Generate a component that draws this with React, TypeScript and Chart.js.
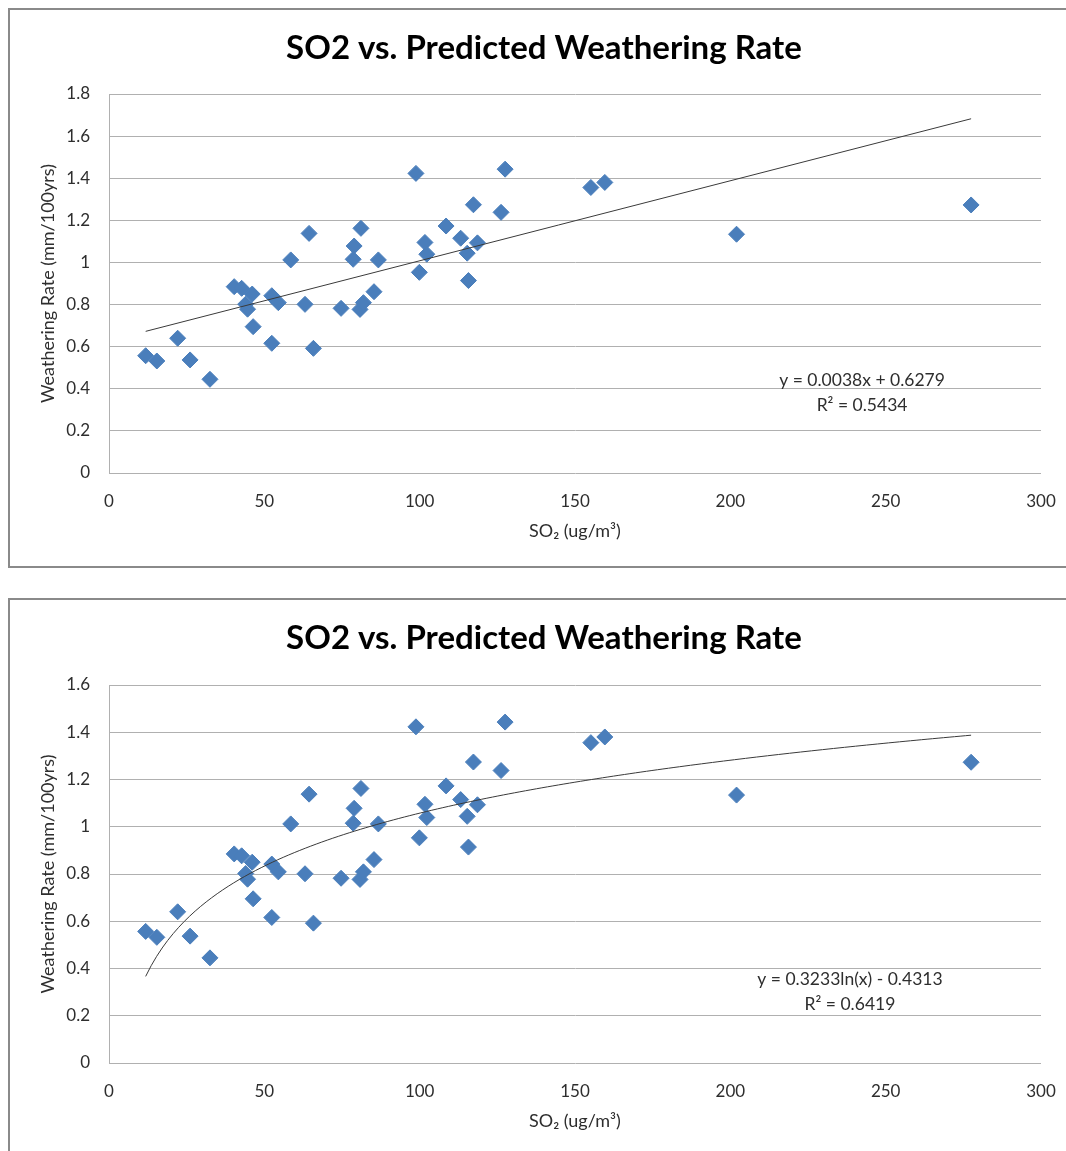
import React, { useEffect, useRef } from "react";
import { Chart, registerables } from "chart.js";

Chart.register(...registerables);

// SO2 concentration (ug/m3) at each site
const so2 = [
  11.8, 15.4, 22.1, 26.1, 32.5, 40.3, 42.7, 46.1, 44.0, 44.6, 46.4, 52.4, 54.5, 52.4,
  58.5, 64.4, 63.1, 65.8, 74.7, 78.9, 78.6, 81.1, 80.8, 81.9, 85.3, 86.7, 98.8, 99.9,
  101.7, 102.3, 108.5, 113.2, 115.3, 115.7, 117.3, 118.6, 126.2, 127.5, 155.1, 159.6,
  202.0, 277.5,
];

// Predicted weathering rate (mm/100yrs) at the same sites
const weatheringRate = [
  0.557, 0.532, 0.64, 0.537, 0.445, 0.885, 0.877, 0.85, 0.802, 0.778, 0.695, 0.842,
  0.809, 0.616, 1.012, 1.138, 0.801, 0.592, 0.782, 1.078, 1.015, 1.162, 0.777, 0.809,
  0.861, 1.012, 1.423, 0.953, 1.095, 1.039, 1.173, 1.115, 1.044, 0.914, 1.274, 1.093,
  1.238, 1.443, 1.356, 1.38, 1.134, 1.273,
];

// Axis ranges
const xAxisRange = [0, 300, 50]; // min, max, step
const yAxisRangeLinear = [0, 1.8, 0.2];
const yAxisRangeLog = [0, 1.6, 0.2];

// Trendline coefficients
const linearFit = [0.0038, 0.6279]; // slope, intercept
const linearR2 = 0.5434;
const logFit = [0.3233, -0.4313]; // coefficient of ln(x), constant
const logR2 = 0.6419;

const TITLE = "SO2 vs. Predicted Weathering Rate";
const X_TITLE = "SO\u2082 (ug/m\u00b3)";
const Y_TITLE = "Weathering Rate (mm/100yrs)";

const FONT = 'Lato, "Open Sans", "DejaVu Sans", sans-serif';
const TEXT = "#2E2E2E";
const MARKER = "#4A7EBB";
const GRID = "#B0B0B0";

const CANVAS_W = 1068;
const CANVAS_H = 556;

type Panel = {
  yRange: number[];
  trend: { x: number; y: number }[];
  labels: string[];
  labelAt: { x: number; y: number };
  titlePadBottom: number;
};

function linearTrend() {
  const lo = Math.min(...so2);
  const hi = Math.max(...so2);
  return [lo, hi].map((x) => ({ x, y: linearFit[0] * x + linearFit[1] }));
}

function logTrend() {
  const lo = Math.min(...so2);
  const hi = Math.max(...so2);
  const pts: { x: number; y: number }[] = [];
  const n = 150;
  for (let i = 0; i <= n; i++) {
    const x = lo + ((hi - lo) * i) / n;
    pts.push({ x, y: logFit[0] * Math.log(x) + logFit[1] });
  }
  return pts;
}

const fmt4 = (v: number) => v.toFixed(4);

const panels: Panel[] = [
  {
    yRange: yAxisRangeLinear,
    trend: linearTrend(),
    labels: [
      `y = ${fmt4(linearFit[0])}x + ${fmt4(linearFit[1])}`,
      `R\u00b2 = ${fmt4(linearR2)}`,
    ],
    labelAt: { x: 242.4, y: 0.438 },
    titlePadBottom: 25.4,
  },
  {
    yRange: yAxisRangeLog,
    trend: logTrend(),
    labels: [
      `y = ${fmt4(logFit[0])}ln(x) - ${fmt4(Math.abs(logFit[1]))}`,
      `R\u00b2 = ${fmt4(logR2)}`,
    ],
    labelAt: { x: 238.5, y: 0.3556 },
    titlePadBottom: 26.4,
  },
];

// Draws the trendline equation and R² as two centred lines
const equationLabel = {
  id: "equationLabel",
  afterDatasetsDraw(chart: any, _args: any, opts: any) {
    if (!opts || !opts.lines) return;
    const { ctx, scales } = chart;
    const cx = scales.x.getPixelForValue(opts.at.x);
    const cy = scales.y.getPixelForValue(opts.at.y);
    ctx.save();
    ctx.font = `17.5px ${FONT}`;
    ctx.fillStyle = TEXT;
    ctx.textAlign = "center";
    ctx.textBaseline = "middle";
    opts.lines.forEach((line: string, i: number) => {
      ctx.fillText(line, cx, cy + i * 25);
    });
    ctx.restore();
  },
};

const tickText = (v: number) => String(Number(v.toFixed(1)));

function ScatterPanel({ panel }: { panel: Panel }) {
  const ref = useRef<HTMLCanvasElement | null>(null);

  useEffect(() => {
    if (!ref.current) return;
    const points = so2.map((x, i) => ({ x, y: weatheringRate[i] }));
    const chart = new Chart(ref.current, {
      type: "scatter",
      data: {
        datasets: [
          {
            type: "scatter",
            data: points,
            pointStyle: "rectRot",
            pointRadius: 8,
            pointBackgroundColor: MARKER,
            pointBorderColor: MARKER,
            pointBorderWidth: 1,
            order: 1,
          },
          {
            type: "line",
            data: panel.trend,
            borderColor: "#3A3A3A",
            borderWidth: 1,
            pointRadius: 0,
            tension: 0,
            fill: false,
            order: 0,
          } as any,
        ],
      },
      plugins: [equationLabel],
      options: {
        responsive: false,
        animation: false,
        layout: { padding: 0 },
        plugins: {
          legend: { display: false },
          tooltip: { enabled: false },
          title: {
            display: true,
            text: TITLE,
            color: "#000000",
            font: { family: FONT, size: 33, weight: "bold", lineHeight: 1.2 },
            padding: { top: 19, bottom: panel.titlePadBottom },
          },
          equationLabel: { lines: panel.labels, at: panel.labelAt },
        } as any,
        scales: {
          x: {
            type: "linear",
            min: xAxisRange[0],
            max: xAxisRange[1],
            ticks: {
              stepSize: xAxisRange[2],
              color: TEXT,
              font: { family: FONT, size: 17 },
              padding: 18,
              maxRotation: 0,
            },
            grid: { display: false, drawTicks: false },
            border: { display: false },
            title: {
              display: true,
              text: X_TITLE,
              color: TEXT,
              font: { family: FONT, size: 18, lineHeight: 1.2 },
              padding: { top: 0, bottom: 24 },
            },
            afterFit(scale: any) {
              scale.height = 93;
            },
          },
          y: {
            type: "linear",
            min: panel.yRange[0],
            max: panel.yRange[1],
            ticks: {
              stepSize: panel.yRange[2],
              color: TEXT,
              font: { family: FONT, size: 17 },
              padding: 19,
              callback: (v: any) => tickText(Number(v)),
            },
            grid: { color: GRID, lineWidth: 1, drawTicks: false },
            border: { display: true, color: GRID, width: 1 },
            title: {
              display: true,
              text: Y_TITLE,
              color: TEXT,
              font: { family: FONT, size: 18, lineHeight: 1.2 },
              padding: { top: 27, bottom: 0 },
            },
            afterFit(scale: any) {
              scale.width = 99;
            },
          },
          // empty right-hand margin beside the plot area
          gutter: {
            type: "linear",
            position: "right",
            min: 0,
            max: 1,
            display: true,
            ticks: { display: false },
            grid: { display: false, drawTicks: false },
            border: { display: false },
            afterFit(scale: any) {
              scale.width = 37;
            },
          },
        },
      } as any,
    });
    return () => chart.destroy();
  }, [panel]);

  return (
    <div
      style={{
        border: "2px solid #8A8A8A",
        width: CANVAS_W,
        height: CANVAS_H,
        background: "#ffffff",
        marginBottom: 30,
      }}
    >
      <canvas
        ref={ref}
        width={CANVAS_W}
        height={CANVAS_H}
        style={{ display: "block", width: CANVAS_W, height: CANVAS_H }}
      />
    </div>
  );
}

export default function App() {
  return (
    <div
      style={{
        position: "fixed",
        left: 0,
        top: 0,
        width: 1066,
        height: 1151,
        overflow: "hidden",
        background: "#ffffff",
      }}
    >
      <div style={{ position: "absolute", left: 8, top: 8 }}>
        {panels.map((p, i) => (
          <ScatterPanel key={i} panel={p} />
        ))}
      </div>
    </div>
  );
}
